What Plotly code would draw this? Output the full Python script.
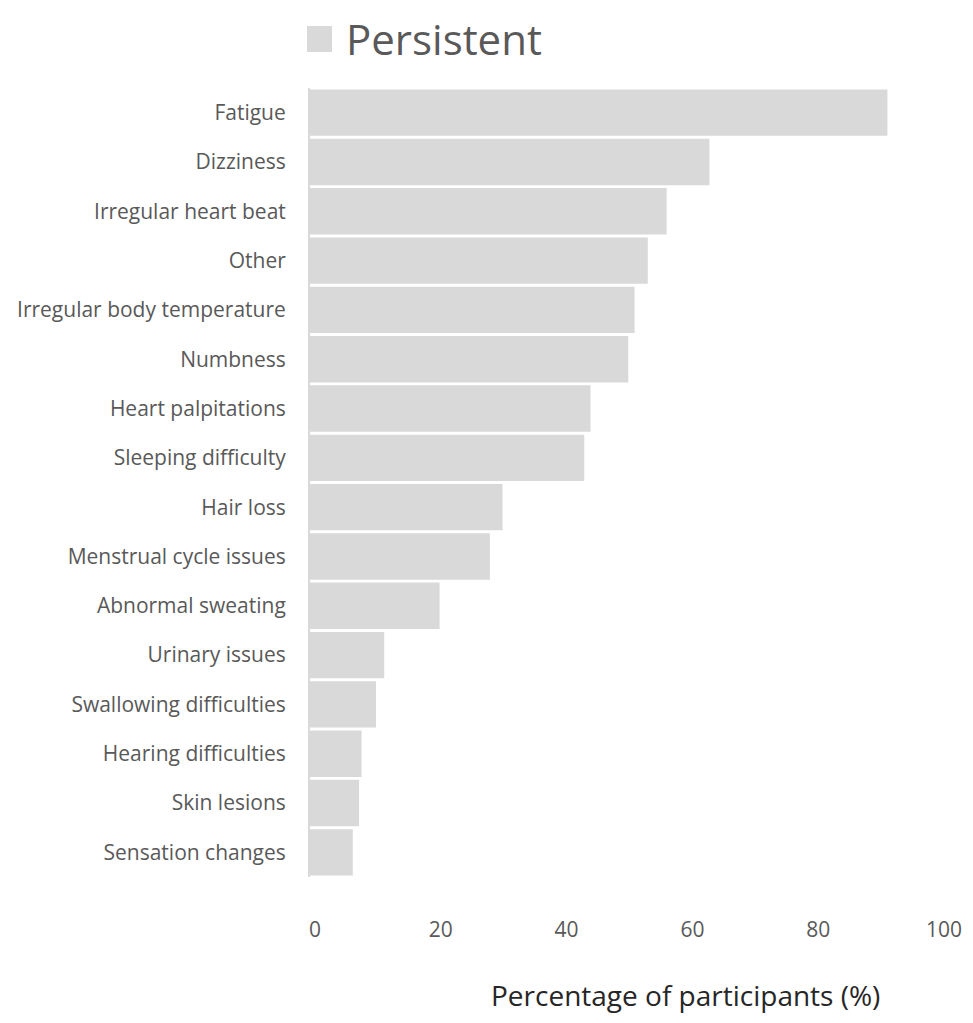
import plotly.graph_objects as go

categories = ["Fatigue", "Dizziness", "Irregular heart beat", "Other",
              "Irregular body temperature", "Numbness", "Heart palpitations",
              "Sleeping difficulty", "Hair loss", "Menstrual cycle issues",
              "Abnormal sweating", "Urinary issues", "Swallowing difficulties",
              "Hearing difficulties", "Skin lesions", "Sensation changes"]
persistent = [91.8, 63.5, 56.7, 53.7, 51.6, 50.6, 44.6, 43.6,
              30.6, 28.6, 20.6, 11.8, 10.5, 8.2, 7.8, 6.8]
x_ticks = [0, 20, 40, 60, 80, 100]
series_name = "Persistent"
x_title = "Percentage of participants (%)"

BAR = "#d9d9d9"
TXT = "#595959"
FONT = "Open Sans"

# page body has an 8px margin; figure coordinates are page minus 8
PW, PH = 629, 789  # plot area size in px

fig = go.Figure()
fig.add_trace(go.Bar(
    y=categories, x=persistent, orientation="h", name=series_name,
    marker=dict(color=BAR, line=dict(width=0)),
    showlegend=False,
))

fig.update_layout(
    width=957, height=1007,
    margin=dict(l=302, r=26, t=80, b=138, autoexpand=False),
    paper_bgcolor="white", plot_bgcolor="white",
    bargap=0.06,
    font=dict(family=FONT, color=TXT),
    xaxis=dict(range=[0, 100], tickvals=x_ticks, showgrid=False, zeroline=False,
               showline=False, ticks="", ticklabelstandoff=38, ticklabelshift=5,
               tickfont=dict(size=21, color=TXT, family=FONT)),
    yaxis=dict(autorange="reversed", showgrid=False, zeroline=False,
               showline=True, linecolor=BAR, linewidth=2, ticks="",
               ticklabelstandoff=18,
               tickfont=dict(size=21, color=TXT, family=FONT)),
    shapes=[dict(type="rect", xref="paper", yref="paper",
                 x0=-3/PW, x1=22/PW, y0=1 + 36/PH, y1=1 + 62/PH,
                 fillcolor=BAR, line=dict(width=0))],
    annotations=[
        dict(text=series_name, xref="paper", yref="paper",
             x=34/PW, y=1 + 80/PH, xanchor="left", yanchor="top",
             showarrow=False, font=dict(size=42, color=TXT, family=FONT)),
        dict(text=x_title, xref="paper", yref="paper",
             x=(685 - 310)/PW, y=-(995 - 877)/PH, xanchor="center", yanchor="middle",
             showarrow=False, font=dict(size=28, color="#262626", family=FONT)),
    ],
)

fig.write_html("out.html")
